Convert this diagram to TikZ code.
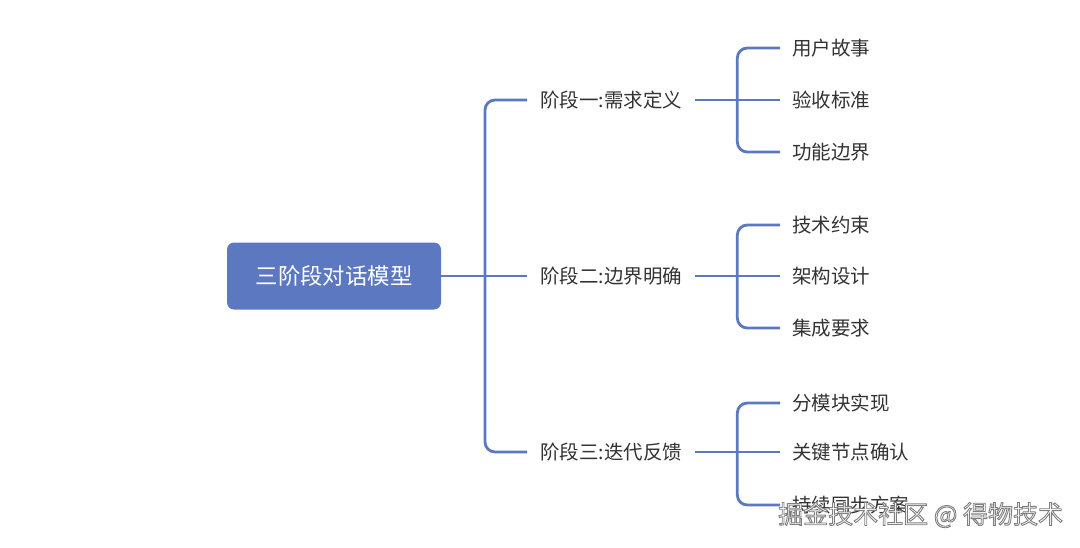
\documentclass[tikz,border=0pt]{standalone}
\usepackage{fontspec}
\setmainfont{Noto Sans CJK SC}
\usetikzlibrary{calc}
\definecolor{mainblue}{HTML}{5B78C0}
\definecolor{txt}{HTML}{333333}
\tikzset{
  conn/.style={draw=mainblue, line width=2.8pt, rounded corners=10pt},
  rootbox/.style={fill=mainblue, rounded corners=7pt, text=white, font=\fontsize{22.4}{26}\selectfont, minimum width=214pt, minimum height=67pt, inner sep=0pt},
  lone/.style={text=txt, font=\fontsize{19.5}{23}\selectfont, inner xsep=13pt, inner ysep=2pt, anchor=west},
  ltwo/.style={text=txt, font=\fontsize{19.5}{23}\selectfont, inner xsep=12pt, inner ysep=2pt, anchor=west},
  wm/.style={font=\fontsize{25}{29}\selectfont, anchor=west, inner sep=0pt}
}
\begin{document}
\begin{tikzpicture}[x=1pt,y=-1pt]
\useasboundingbox[fill=white] (0,0) rectangle (1080,547);
\node[rootbox] (root) at (334,276) {三阶段对话模型};
\node[lone] (a) at (527,100) {阶段一:需求定义};
\node[lone] (b) at (527,276) {阶段二:边界明确};
\node[lone] (c) at (527,452) {阶段三:迭代反馈};
\node[ltwo] (a1) at (780,48) {用户故事};
\node[ltwo] (a2) at (780,100) {验收标准};
\node[ltwo] (a3) at (780,152) {功能边界};
\node[ltwo] (b1) at (780,225) {技术约束};
\node[ltwo] (b2) at (780,276) {架构设计};
\node[ltwo] (b3) at (780,328) {集成要求};
\node[ltwo] (c1) at (780,403) {分模块实现};
\node[ltwo] (c2) at (780,452) {关键节点确认};
\node[ltwo] (c3) at (780,505) {持续同步方案};
\coordinate (j0) at (485,276);
\coordinate (ja) at ($(a.east)+(42,0)$);
\coordinate (jb) at ($(b.east)+(42,0)$);
\coordinate (jc) at ($(c.east)+(42,0)$);
\draw[conn] (root.east) -- (b.west);
\draw[conn] (j0) |- (a.west);
\draw[conn] (j0) |- (c.west);
\foreach \p/\q in {a/ja,b/jb,c/jc}{
  \draw[conn] (\p.east) -- (\p2.west);
  \draw[conn] (\q) |- (\p1.west);
  \draw[conn] (\q) |- (\p3.west);
}
\node[wm, text=white] (wmk) at (778,515) {\special{pdf:literal direct 2 Tr 0.9 w 0.5 G}掘金技术社区 @ 得物技术\special{pdf:literal direct 0 Tr}};
\end{tikzpicture}
\end{document}
